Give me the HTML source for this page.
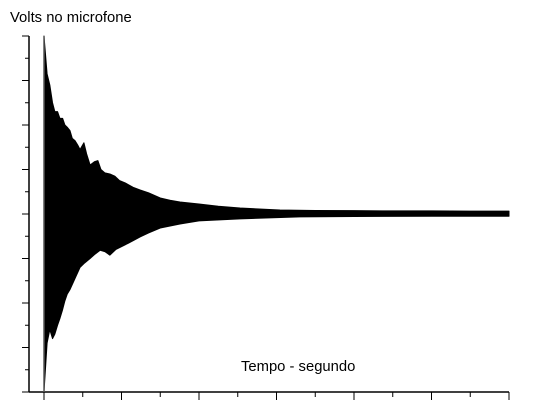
<!DOCTYPE html>
<html><head><meta charset="utf-8"><style>
html,body{margin:0;padding:0;background:#fff;}
svg{display:block;font-family:"Liberation Sans",sans-serif;}
</style></head><body>
<svg id="chart" width="552" height="402">
<text x="10" y="22" font-size="14.8" fill="#000">Volts no microfone</text>
<text x="241" y="371" font-size="14.8" fill="#000">Tempo - segundo</text>
<g id="axes"></g>
<g id="series"></g>
</svg>
<script>
const upperT=[0,0.08,0.15,0.22,0.28,0.35,0.41,0.48,0.54,0.6,0.67,0.73,0.8,0.87,0.93,1.03,1.1,1.19,1.3,1.39,1.47,1.57,1.7,1.83,1.95,2.09,2.3,2.48,2.7,3.0,3.25,3.51,4.0,4.5,5.06,6.09,7,8,9,10,11,12];
const upperV=[8,6.3,5.8,5.0,4.6,4.6,4.3,4.3,4.0,3.9,3.75,3.4,3.3,3.1,2.9,3.2,2.7,2.2,2.35,2.4,2.0,1.85,1.8,1.7,1.5,1.4,1.2,1.08,0.95,0.72,0.62,0.54,0.45,0.35,0.27,0.18,0.16,0.15,0.14,0.14,0.13,0.13];
const lowerT=[0,0.08,0.15,0.22,0.28,0.35,0.41,0.48,0.54,0.6,0.67,0.8,0.93,1.05,1.19,1.32,1.45,1.58,1.7,1.85,2.09,2.3,2.48,2.7,3.0,3.51,4.0,5.06,6.6,8,10,12];
const lowerV=[-8,-5.8,-5.2,-5.6,-5.4,-5.0,-4.7,-4.3,-3.9,-3.6,-3.4,-2.9,-2.4,-2.2,-2.0,-1.8,-1.63,-1.7,-1.85,-1.6,-1.39,-1.2,-1.03,-0.85,-0.63,-0.45,-0.31,-0.22,-0.13,-0.11,-0.1,-0.1];
const xTicks=[0,1,2,3,4,5,6,7,8,9,10,11,12];
const yTicks=[-8,-7,-6,-5,-4,-3,-2,-1,0,1,2,3,4,5,6,7,8];
const X=t=>44+t*38.75;
const Y=v=>214-v*22.25;
const NS="http://www.w3.org/2000/svg";
const axes=document.getElementById('axes');
const series=document.getElementById('series');
function mk(tag,attrs,parent){const e=document.createElementNS(NS,tag);for(const k in attrs)e.setAttribute(k,attrs[k]);parent.appendChild(e);return e;}
const ya=mk('line',{x1:29,y1:36,x2:29,y2:392,stroke:'#000','stroke-width':1.5},axes);


const xa=mk('line',{x1:29,y1:392,x2:509,y2:392,stroke:'#000','stroke-width':1.5},axes);


yTicks.forEach(v=>{const maj=(v%2===0);const t=mk('line',{x1:maj?22:25,x2:29,y1:Y(v),y2:Y(v),stroke:'#000','stroke-width':1},axes);

});
xTicks.forEach(tv=>{const maj=(tv%2===0);const t=mk('line',{x1:X(tv),x2:X(tv),y1:392,y2:maj?400:397,stroke:'#000','stroke-width':1},axes);

});
let d='M'+X(upperT[0])+','+Y(upperV[0]);
for(let i=1;i<upperT.length;i++)d+=' L'+X(upperT[i])+','+Y(upperV[i]);
for(let i=lowerT.length-1;i>=0;i--)d+=' L'+X(lowerT[i])+','+Y(lowerV[i]);
d+=' Z';
const p=mk('path',{d:d,fill:'#000',stroke:'#000','stroke-width':1,'stroke-linejoin':'round'},series);


const sp=mk('line',{x1:X(0),x2:X(0),y1:Y(8),y2:Y(-8),stroke:'#555','stroke-width':1.5},series);


</script>
</body></html>
